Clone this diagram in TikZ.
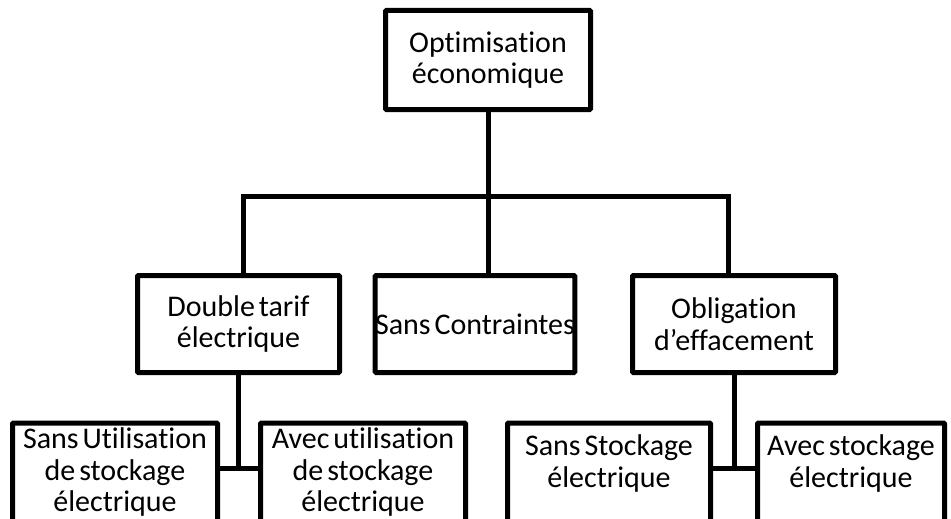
\documentclass[tikz,border=0pt]{standalone}
\usepackage{fontspec}
\setmainfont{Carlito}[Ligatures=NoCommon]
\newcommand\policeboite{\fontsize{30}{31.5}\selectfont\spaceskip=0.13em\relax}

\begin{document}
\begin{tikzpicture}[x=1pt,y=-1pt,line width=5pt,
    boite/.style={draw,rounded corners=1pt,align=center,inner sep=0pt,
        font=\policeboite},
    lien/.style={draw,line cap=rect}]
    \useasboundingbox (0,0) rectangle (951,519);

    % niveau 1
    \node[boite,minimum width=205,minimum height=99] (opt) at (488,60) {Optimisation\\économique};

    % niveau 2
    \node[boite,minimum width=202,minimum height=97] (dbl) at (238.5,324) {Double tarif\\électrique};
    \node[boite,minimum width=199,minimum height=97] (sans) at (475,324) {Sans Contraintes};
    \node[boite,minimum width=203,minimum height=97] (obl) at (734,324) {Obligation\\d’effacement};

    % niveau 3 (coupé en bas, ligne vide pour remonter le texte)
    \node[boite,anchor=north,minimum width=205,minimum height=135] (sul) at (115,420.5) {Sans Utilisation\\de stockage\\électrique\\\strut};
    \node[boite,anchor=north,minimum width=205,minimum height=135] (aul) at (363,420.5) {Avec utilisation\\de stockage\\électrique\\\strut};
    \node[boite,anchor=north,minimum width=203,minimum height=117] (sst) at (609,420.5) {Sans Stockage\\électrique\\\strut};
    \node[boite,anchor=north,minimum width=187,minimum height=117] (ast) at (851,420.5) {Avec stockage\\électrique\\\strut};

    % bus du haut
    \coordinate (busG) at (243,196);
    \coordinate (busD) at (728,196);
    \draw[lien] (opt.south) -- (opt.south |- sans.north);
    \draw[lien] (busG |- dbl.north) -- (busG) -- (busD) -- (busD |- obl.north);

    % jonctions du bas
    \coordinate (jG) at (dbl.south |- 0,468);
    \coordinate (jD) at (obl.south |- 0,468);
    \draw (dbl.south) -- (jG);
    \draw (sul.east |- jG) -- (aul.west |- jG);
    \draw (obl.south) -- (jD);
    \draw (sst.east |- jD) -- (ast.west |- jD);
\end{tikzpicture}
\end{document}
